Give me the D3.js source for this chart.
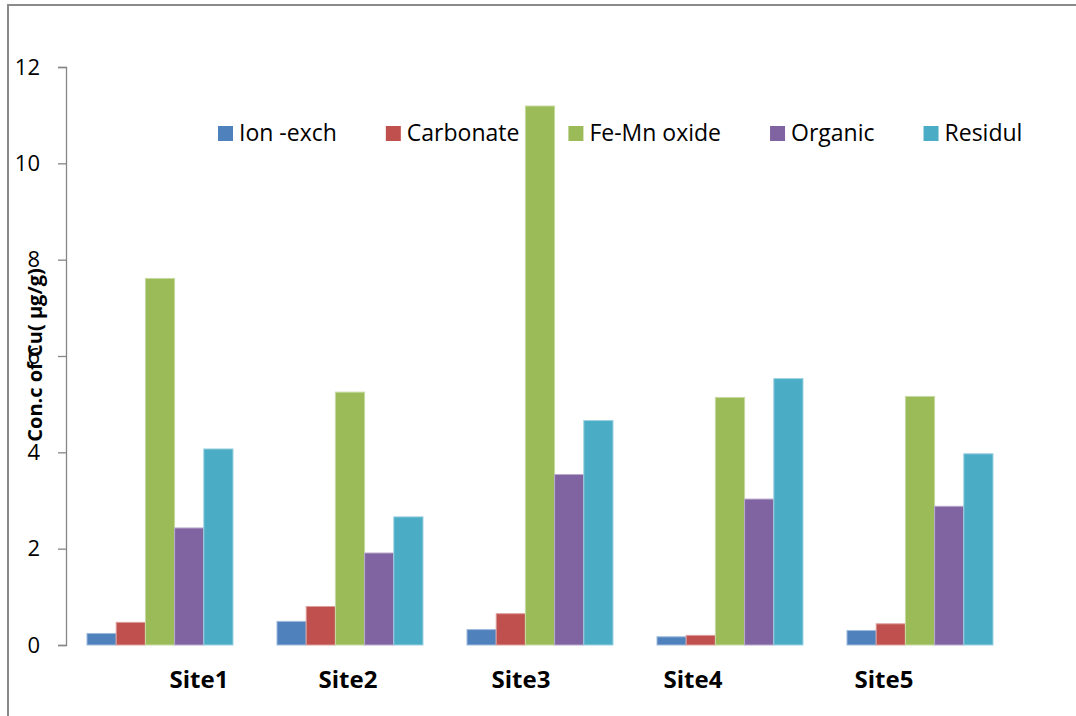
<!DOCTYPE html>
<html>
<head>
<meta charset="utf-8">
<script src="https://cdn.jsdelivr.net/npm/d3@7"></script>
<style>
  html, body { margin: 0; padding: 0; background: #fff; }
  svg { display: block; }
  text { font-family: "Open Sans", "DejaVu Sans", sans-serif; fill: #000; }
</style>
</head>
<body>
<svg id="chart" width="1076" height="716"></svg>
<script>
// Sites along the x axis
const sites = ["Site1", "Site2", "Site3", "Site4", "Site5"];
// Fractions of Cu
const fractions = ["Ion -exch", "Carbonate", "Fe-Mn oxide", "Organic", "Residul"];
const colors = ["#4F81BD", "#C0504D", "#9BBB59", "#8064A2", "#4BACC6"];

// Cu concentration (µg/g) per fraction, one value per site
const ionExch   = [0.24, 0.49, 0.32, 0.17, 0.30];
const carbonate = [0.47, 0.80, 0.65, 0.20, 0.44];
const feMnOxide = [7.61, 5.25, 11.19, 5.14, 5.16];
const organic   = [2.43, 1.91, 3.54, 3.03, 2.88];
const residul   = [4.07, 2.66, 4.66, 5.53, 3.97];
const seriesValues = [ionExch, carbonate, feMnOxide, organic, residul];

const yTicks = [0, 2, 4, 6, 8, 10, 12];
const yTitle = "Con.c of Cu( µg/g)";

// Site captions sit a little off their group centres
const labelNudge = [39, -2, -19, -37, -36];

const svg = d3.select("#chart");

// outer frame
svg.append("rect")
  .attr("x", 8).attr("y", 5)
  .attr("width", 1100).attr("height", 760)
  .attr("fill", "none")
  .attr("stroke", "#8a8a8a")
  .attr("stroke-width", 2);

const x0 = d3.scaleBand().domain(sites).range([65, 1015])
  .paddingInner(0.2316).paddingOuter(0.1158);
const x1 = d3.scaleBand().domain(fractions).range([0, x0.bandwidth()]).padding(0);
const y = d3.scaleLinear().domain([0, 12]).range([645, 67]);

// y axis
const yAxis = d3.axisLeft(y).tickValues(yTicks).tickSize(8).tickPadding(18)
  .tickFormat(d3.format("d"));
const gy = svg.append("g").attr("transform", "translate(66,0)").call(yAxis);
gy.select(".domain").attr("stroke", "#868686").attr("stroke-width", 1.3);
gy.selectAll(".tick line").attr("stroke", "#868686").attr("stroke-width", 1.3);
gy.selectAll(".tick text")
  .attr("font-size", 22)
  .attr("font-family", "'Open Sans', sans-serif")
  .attr("fill", "#000");

// bars
const rows = sites.map((s, i) => ({
  site: s,
  vals: fractions.map((f, j) => ({ f, j, v: seriesValues[j][i] }))
}));

const groups = svg.append("g").selectAll("g")
  .data(rows).join("g")
  .attr("transform", d => `translate(${x0(d.site)},0)`);

groups.selectAll("rect")
  .data(d => d.vals).join("rect")
  .attr("x", d => x1(d.f))
  .attr("y", d => y(d.v))
  .attr("width", x1.bandwidth())
  .attr("height", d => y(0) - y(d.v))
  .attr("fill", d => colors[d.j])
  .attr("stroke", d => d3.interpolateRgb(colors[d.j], "#ffffff")(0.45))
  .attr("stroke-width", 1);

// site captions
svg.append("g").selectAll("text")
  .data(sites).join("text")
  .attr("x", (d, i) => x0(d) + x0.bandwidth() / 2 + labelNudge[i])
  .attr("y", 688)
  .attr("text-anchor", "middle")
  .attr("font-size", 24)
  .attr("font-weight", "bold")
  .text(d => d);

// y axis title
svg.append("text")
  .attr("transform", "translate(42,355) rotate(-90)")
  .attr("text-anchor", "middle")
  .attr("font-size", 20)
  .attr("font-weight", "bold")
  .text(yTitle);

// legend
const legend = svg.append("g");
let lx = 218;
fractions.forEach((f, j) => {
  legend.append("rect")
    .attr("x", lx).attr("y", 126)
    .attr("width", 15).attr("height", 15)
    .attr("fill", colors[j]);
  const t = legend.append("text")
    .attr("x", lx + 21).attr("y", 141)
    .attr("font-size", 23)
    .text(f);
  lx += 21 + t.node().getComputedTextLength() + 49;
});
</script>
</body>
</html>
